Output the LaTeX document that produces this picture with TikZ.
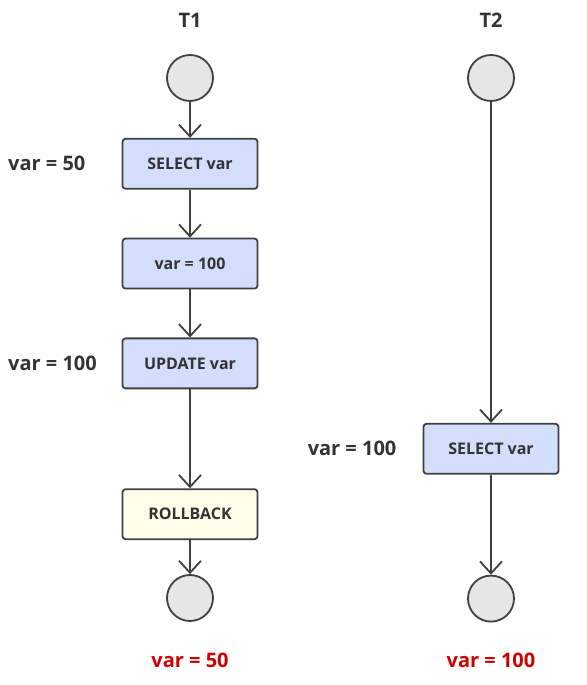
\documentclass[tikz,border=0pt]{standalone}
\usepackage{fontspec}
\setmainfont{Open Sans}
\usepackage{tikz}
\usetikzlibrary{arrows.meta,positioning}
\definecolor{BoxBlue}{RGB}{210,222,252}
\definecolor{BoxYellow}{RGB}{255,254,232}
\definecolor{StateGray}{RGB}{230,230,230}
\definecolor{LineGray}{RGB}{64,64,64}
\definecolor{TextGray}{RGB}{51,51,51}
\definecolor{ResultRed}{RGB}{204,0,0}

\begin{document}
\begin{tikzpicture} [x=1pt, y=1pt, >={Straight Barb[length=12pt,width=22pt]}, LineGray, text=TextGray, line width=1.8pt,
	   every node/.style={font=\bfseries\fontsize{16}{18}\selectfont},
	   stepbox/.style = {rectangle, rounded corners=3pt, minimum width=135pt, minimum height=50pt,
	                     draw=LineGray, fill=#1},
	   state/.style = {circle, minimum size=46pt, inner sep=0pt, draw=LineGray, fill=StateGray},
	   varlabel/.style = {font=\bfseries\fontsize{20}{22}\selectfont},
	   result/.style = {varlabel, text=ResultRed}]
	\useasboundingbox (0,0) rectangle (586,685);

	%% Reference coordinates
	\coordinate (leftedge) at (4,0);
	\coordinate (resline) at (0,25);

	%% Transaction T1
	\node [varlabel] (t1) at (190,665) {T1};
	\node [state] (start1) at (190,607) {};
	\node [stepbox=BoxBlue, below = 36pt of start1] (sel1) {SELECT var};
	\node [stepbox=BoxBlue, below = 48pt of sel1] (set1) {var = 100};
	\node [stepbox=BoxBlue, below = 48pt of set1] (upd1) {UPDATE var};
	\node [stepbox=BoxYellow, below = 99pt of upd1] (rb1) {ROLLBACK};
	\node [state, below = 34pt of rb1] (end1) {};
	\node [result] (res1) at (end1 |- resline) {var = 50};

	%% Values read by T1
	\node [varlabel, right] (val1) at (sel1 -| leftedge) {var = 50};
	\node [varlabel, right] (val2) at (upd1 -| leftedge) {var = 100};

	%% Transaction T2
	\node [varlabel] (t2) at (491,665) {T2};
	\node [state] (start2) at (491,607) {};
	\node [stepbox=BoxBlue, below = 321pt of start2] (sel2) {SELECT var};
	\node [state, below = 100pt of sel2] (end2) {};
	\node [result] (res2) at (end2 |- resline) {var = 100};
	\node [varlabel, left = 22pt of sel2] (val3) {var = 100};

	%% Paths
	\draw[->] (start1) -- (sel1);
	\draw[->] (sel1) -- (set1);
	\draw[->] (set1) -- (upd1);
	\draw[->] (upd1) -- (rb1);
	\draw[->] (rb1) -- (end1);
	\draw[->] (start2) -- (sel2);
	\draw[->] (sel2) -- (end2);
\end{tikzpicture}
\end{document}
